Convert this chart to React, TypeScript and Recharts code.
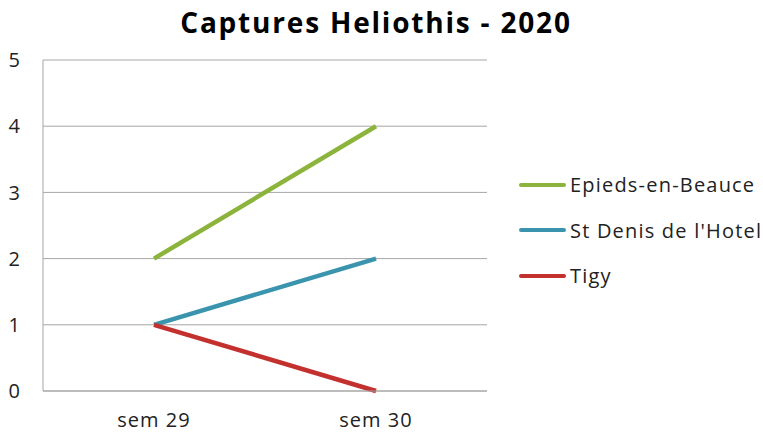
import { LineChart, Line, XAxis, YAxis, CartesianGrid } from 'recharts';

const weeks = ['sem 29', 'sem 30'];
const epieds = [2, 4];
const stDenis = [1, 2];
const tigy = [1, 0];
const yTicks = [0, 1, 2, 3, 4, 5];

const series = [
  { key: 'epieds', label: 'Epieds-en-Beauce', color: '#8cb43c' },
  { key: 'stdenis', label: "St Denis de l'Hotel", color: '#3b94ad' },
  { key: 'tigy', label: 'Tigy', color: '#c3312f' },
];

const data = weeks.map((w, i) => ({
  week: w,
  epieds: epieds[i],
  stdenis: stDenis[i],
  tigy: tigy[i],
}));

const font = '"Open Sans", sans-serif';
const tickStyle = { fill: '#222', fontSize: 20, fontFamily: font, letterSpacing: 1 };

export default function App() {
  return (
    <div style={{ position: 'absolute', left: 0, top: 0, width: 763, height: 434, background: '#fff' }}>
      <div
        style={{
          position: 'absolute',
          top: 3,
          left: 0,
          width: 752,
          textAlign: 'center',
          fontFamily: font,
          fontWeight: 700,
          fontSize: 28,
          letterSpacing: 1.8,
          color: '#000',
        }}
      >
        Captures Heliothis - 2020
      </div>
      <div
        style={{
          position: 'absolute',
          left: 519,
          top: 162,
          fontFamily: font,
          fontSize: 20,
          letterSpacing: 1.2,
          color: '#222',
        }}
      >
        {series.map((s) => (
          <div key={s.key} style={{ display: 'flex', alignItems: 'center', height: 45.5 }}>
            <span style={{ display: 'inline-block', width: 47, height: 4, background: s.color, borderRadius: 2 }} />
            <span style={{ marginLeft: 4 }}>{s.label}</span>
          </div>
        ))}
      </div>
      <LineChart width={763} height={434} data={data} margin={{ top: 60, right: 276, left: 0, bottom: 0 }}>
        <CartesianGrid stroke="#a6a6a6" vertical={false} />
        <XAxis
          dataKey="week"
          height={43}
          padding={{ left: 111, right: 111 }}
          axisLine={{ stroke: '#a6a6a6' }}
          tickLine={false}
          tickSize={0}
          tickMargin={22}
          tick={tickStyle}
        />
        <YAxis
          width={43}
          domain={[0, 5]}
          ticks={yTicks}
          axisLine={{ stroke: '#a6a6a6' }}
          tickLine={false}
          tickSize={0}
          tickMargin={22}
          tick={tickStyle}
        />
        {series.map((s) => (
          <Line
            key={s.key}
            dataKey={s.key}
            name={s.label}
            stroke={s.color}
            strokeWidth={4.5}
            dot={false}
            activeDot={false}
            isAnimationActive={false}
          />
        ))}
      </LineChart>
    </div>
  );
}
